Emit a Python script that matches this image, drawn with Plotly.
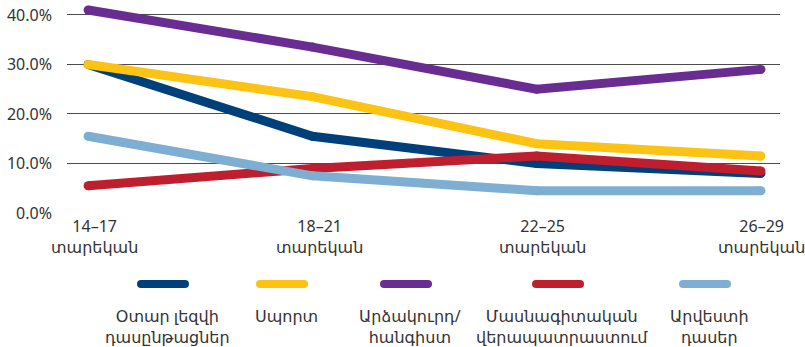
import plotly.graph_objects as go

# Age groups (x categories)
age_groups = ["14–17", "18–21", "22–25", "26–29"]
age_unit = "տարեկան"

# Share of respondents by activity type, %
foreign_language = [30, 15.5, 10, 8]
sport = [30, 23.5, 14, 11.5]
vacation = [41, 33.5, 25, 29]
vocational = [5.5, 9, 11.5, 8.5]
arts = [15.5, 7.5, 4.5, 4.5]

series_names = [
    "Օտար լեզվի<br>դասընթացներ",
    "Սպորտ",
    "Արձակուրդ/<br>հանգիստ",
    "Մասնագիտական<br>վերապատրաստում",
    "Արվեստի<br>դասեր",
]
series_values = [foreign_language, sport, vacation, vocational, arts]
colors = ["#00407a", "#fdc314", "#692c91", "#be1e2e", "#7eaed1"]

y_ticks = [0, 10, 20, 30, 40]
y_tick_text = [f"{v:.1f}%" for v in y_ticks]

W, H = 805, 347
FONT = "Noto Sans, DejaVu Sans, sans-serif"
TEXT = "#333333"

fig = go.Figure()

for name, vals, col in zip(series_names, series_values, colors):
    fig.add_trace(go.Scatter(
        x=age_groups, y=vals, mode="lines+markers", name=name,
        line=dict(color=col, width=9),
        marker=dict(color=col, size=9, line=dict(width=0)),
        showlegend=False, cliponaxis=False, hoverinfo="skip",
    ))

# Two-line category labels under the axis
label_shifts = [6, 7, 6, 1]
for cat, dx in zip(age_groups, label_shifts):
    fig.add_annotation(
        x=cat, y=0, xref="x", yref="y", text=f"{cat}<br>{age_unit}",
        showarrow=False, xanchor="center", yanchor="top", align="center",
        xshift=dx, yshift=0, font=dict(family=FONT, size=16, color=TEXT),
    )

# Custom legend below the chart: rounded swatch with centred label beneath
legend_centers = [163, 282, 406, 558, 705]
swatch_half = 22
swatch_y = 284
for cx, name, col in zip(legend_centers, series_names, colors):
    fig.add_trace(go.Scatter(
        x=[cx - swatch_half, cx + swatch_half], y=[swatch_y, swatch_y],
        xaxis="x2", yaxis="y2", mode="lines+markers",
        line=dict(color=col, width=8), marker=dict(color=col, size=8, line=dict(width=0)),
        showlegend=False, hoverinfo="skip",
    ))
    fig.add_annotation(
        x=cx + 4, y=303, xref="x2", yref="y2", text=name, showarrow=False,
        xanchor="center", yanchor="top", align="center",
        font=dict(family=FONT, size=16, color=TEXT),
    )

fig.update_layout(
    width=W, height=H, autosize=False,
    margin=dict(l=0, r=0, t=0, b=0),
    paper_bgcolor="white", plot_bgcolor="rgba(0,0,0,0)",
    font=dict(family=FONT, size=16, color=TEXT),
    xaxis=dict(
        type="category", domain=[67 / W, 780 / W], range=[-0.094, 3.085],
        showgrid=False, zeroline=False, showline=False, ticks="",
        showticklabels=False, automargin=False,
    ),
    yaxis=dict(
        domain=[1 - 213 / H, 1 - 5 / H], range=[0, 42],
        tickvals=y_ticks, ticktext=y_tick_text,
        showgrid=True, gridcolor="#4d4d4d", gridwidth=1,
        zeroline=False, showline=False, ticks="", ticklabelstandoff=14,
        tickfont=dict(family=FONT, size=16, color=TEXT), automargin=False,
    ),
    xaxis2=dict(domain=[0, 1], range=[0, W], visible=False, anchor="y2"),
    yaxis2=dict(domain=[0, 1], range=[H, 0], visible=False, anchor="x2"),
)

fig.write_html("out.html")
